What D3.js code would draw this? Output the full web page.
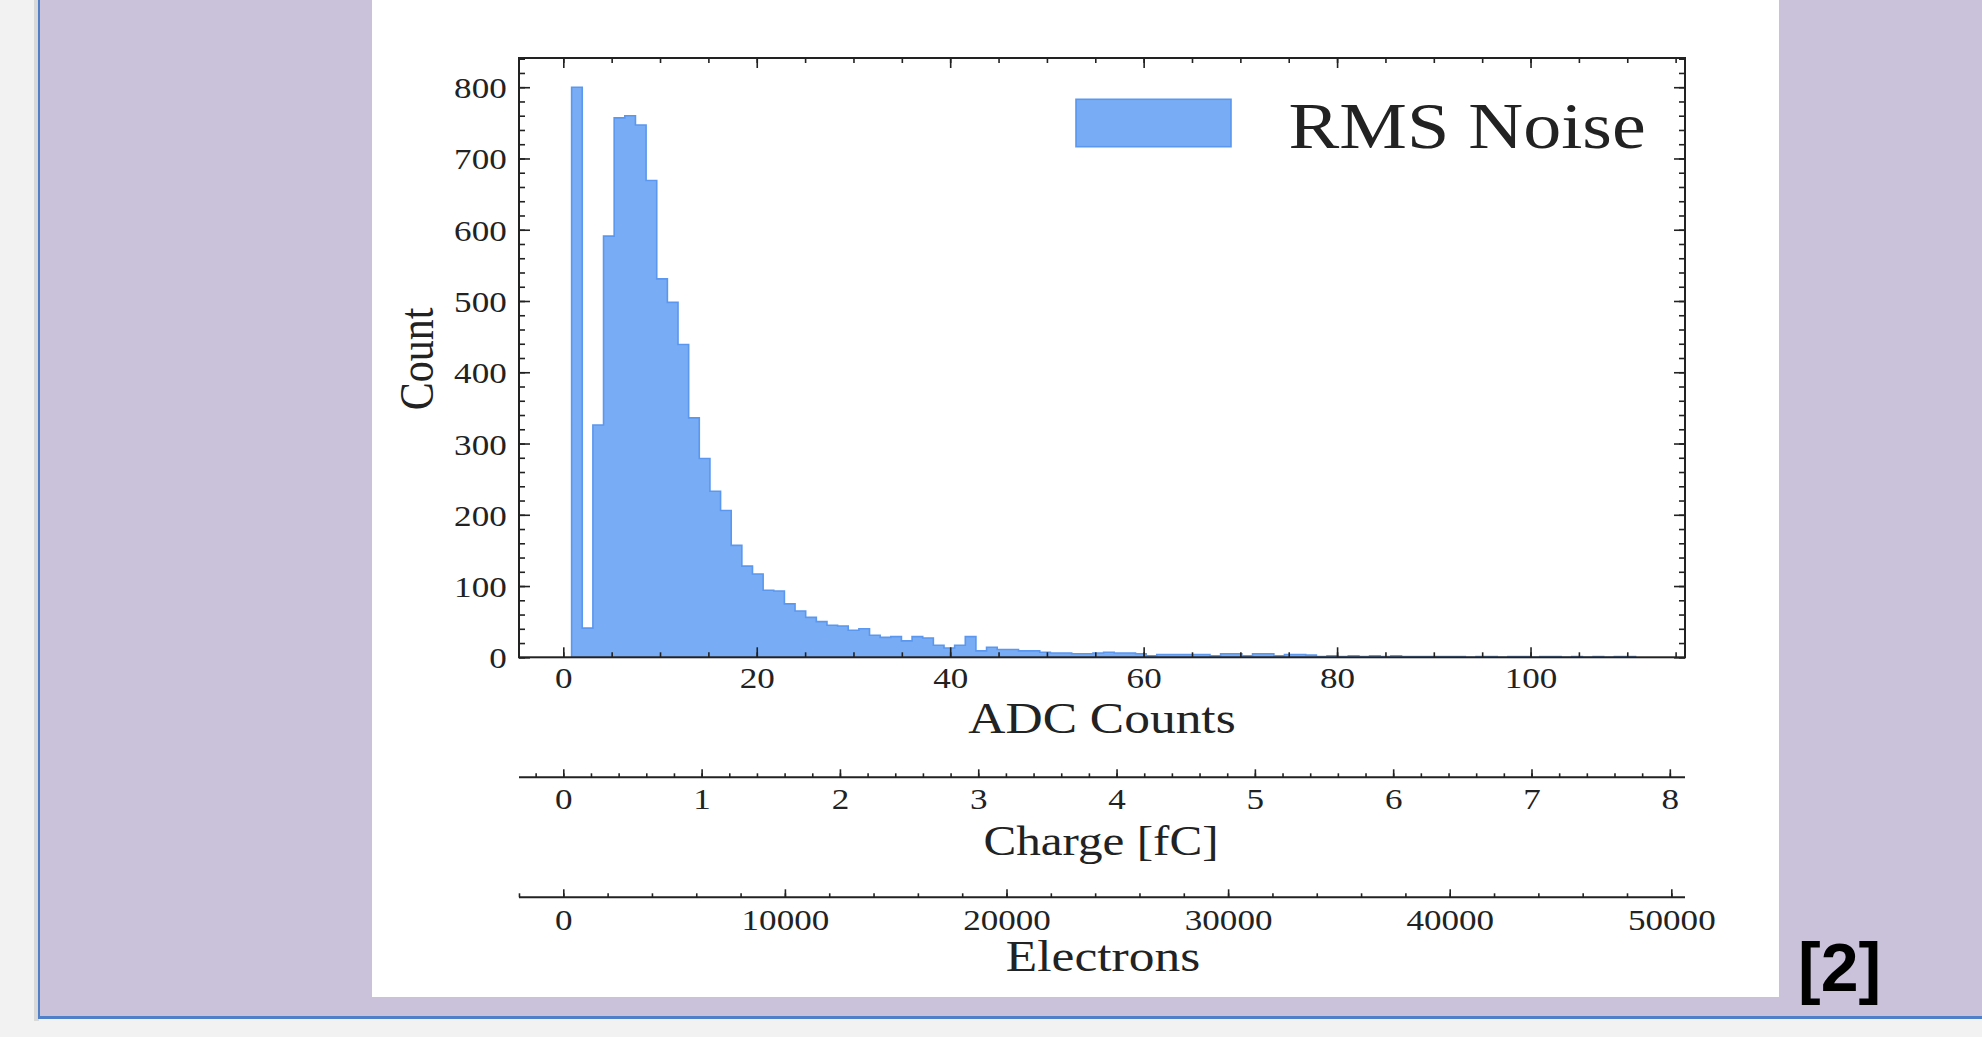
<!DOCTYPE html>
<html>
<head>
<meta charset="utf-8">
<script src="https://cdn.jsdelivr.net/npm/d3@7"></script>
<style>
  body { margin: 0; background: #f2f2f2; overflow: hidden; }
  svg { display: block; }
</style>
</head>
<body>
<svg id="noisePlot"></svg>
<script>
// histogram of per-channel RMS noise, 100 bins starting at 0.86 ADC, 1.1 ADC wide
const binStart = 0.86;
const binWidth = 1.1;
const counts = [
  800, 41, 326, 591, 757, 760, 747, 669, 531, 498,
  439, 336, 279, 233, 206, 157, 128, 117, 94, 93,
  75, 65, 56, 50, 45, 44, 38, 40, 31, 28,
  29, 23, 29, 27, 17, 13, 17, 29, 9, 14,
  11, 11, 9, 9, 7, 6, 6, 5, 5, 6,
  7, 6, 6, 5, 2, 4, 4, 4, 4, 4,
  2, 5, 5, 2, 5, 5, 2, 4, 4, 3,
  1, 2, 1, 2, 1, 2, 1, 2, 1, 1,
  1, 1, 1, 1, 0, 1, 1, 0, 1, 1,
  0, 1, 1, 0, 1, 0, 1, 0, 1, 1,
];

const adcTicks = [0, 20, 40, 60, 80, 100];
const countTicks = [0, 100, 200, 300, 400, 500, 600, 700, 800];
const chargeTicks = [0, 1, 2, 3, 4, 5, 6, 7, 8];
const electronTicks = [0, 10000, 20000, 30000, 40000, 50000];

const adcPerFc = 14.3;
const electronsPerFc = 6241.5;

const size = { width: 1982, height: 1037 };
const serif = "'Liberation Serif', 'Times New Roman', serif";
const sx = 1.17; // the source figure is stretched sideways
const ink = "#222";
const color = { fill: "#78acf4", edge: "#5b97ee" };

const svg = d3
  .select("#noisePlot")
  .attr("width", size.width)
  .attr("height", size.height);

// slide backdrop
svg.append("rect").attr("width", size.width).attr("height", size.height).attr("fill", "#f2f2f2");
svg.append("rect").attr("x", 34).attr("y", 0).attr("width", 5).attr("height", 1021).attr("fill", "#d9d9d9");
svg.append("rect").attr("x", 38).attr("y", 0).attr("width", size.width - 38).attr("height", 1019).attr("fill", "#4f80c8");
svg.append("rect").attr("x", 40).attr("y", 0).attr("width", size.width - 40).attr("height", 1016).attr("fill", "#cac1da");
svg.append("rect").attr("x", 372).attr("y", 0).attr("width", 1407).attr("height", 997).attr("fill", "#fff");

svg
  .append("text")
  .text("[2]")
  .attr("x", 1798)
  .attr("y", 991)
  .attr("font-family", "'Liberation Sans', Arial, sans-serif")
  .attr("font-weight", "bold")
  .attr("font-size", 68)
  .attr("fill", "#000");

const frame = { left: 519, right: 1685, top: 58, bottom: 657.3 };

const x = d3.scaleLinear().domain([-4.58, 115.97]).range([frame.left, frame.right]);
const y = d3.scaleLinear().domain([0, 841]).range([frame.bottom, frame.top]);
const xCharge = d3
  .scaleLinear()
  .domain(x.domain().map((v) => v / adcPerFc))
  .range(x.range());
const xElec = d3
  .scaleLinear()
  .domain(xCharge.domain().map((v) => v * electronsPerFc))
  .range(x.range());

// histogram
const pts = counts.map((c, i) => [binStart + i * binWidth, c]);
pts.push([binStart + counts.length * binWidth, counts[counts.length - 1]]);

const area = d3
  .area()
  .curve(d3.curveStepAfter)
  .x((d) => x(d[0]))
  .y0(y(0))
  .y1((d) => y(d[1]));

svg.append("path").datum(pts).attr("d", area).attr("fill", color.fill);

const outline = [[pts[0][0], 0], ...pts, [pts[pts.length - 1][0], 0]];
svg
  .append("path")
  .datum(outline)
  .attr(
    "d",
    d3
      .line()
      .curve(d3.curveStepAfter)
      .x((d) => x(d[0]))
      .y((d) => y(d[1]))
  )
  .attr("fill", "none")
  .attr("stroke", color.edge)
  .attr("stroke-width", 1.6);

// axes helpers
const styleAxis = (g, fontSize) => {
  g.attr("font-family", serif).attr("font-size", fontSize);
  g.select(".domain").remove();
  g.selectAll(".tick line").attr("stroke", ink).attr("stroke-width", 1.6);
  g.selectAll(".tick text").attr("fill", ink);
  return g;
};

const placeLabels = (g, dx, dy) => {
  g.selectAll(".tick text")
    .attr("x", null)
    .attr("y", null)
    .attr("dy", null)
    .attr("transform", `translate(${dx},${dy}) scale(${sx},1)`);
};

const addAxis = (axis, transform, fontSize = 30) =>
  styleAxis(svg.append("g").attr("transform", transform).call(axis), fontSize);

const minorAdc = d3.range(-0, 116, 5);
const minorCount = d3.range(0, 841, 20);

// bottom ADC axis
const adcAxis = addAxis(
  d3.axisBottom(x).tickValues(adcTicks).tickSize(-10).tickSizeOuter(0).tickFormat(d3.format("d")),
  `translate(0,${frame.bottom})`
);
placeLabels(adcAxis, 0, 30.7);
addAxis(d3.axisBottom(x).tickValues(minorAdc).tickSize(-5).tickSizeOuter(0).tickFormat(""), `translate(0,${frame.bottom})`);

// top mirror
addAxis(d3.axisTop(x).tickValues(adcTicks).tickSize(-10).tickSizeOuter(0).tickFormat(""), `translate(0,${frame.top})`);
addAxis(d3.axisTop(x).tickValues(minorAdc).tickSize(-5).tickSizeOuter(0).tickFormat(""), `translate(0,${frame.top})`);

// left count axis
const countAxis = addAxis(
  d3.axisLeft(y).tickValues(countTicks).tickSize(-11).tickSizeOuter(0).tickFormat(d3.format("d")),
  `translate(${frame.left},0)`
);
countAxis.selectAll(".tick text").attr("text-anchor", "end");
placeLabels(countAxis, -12.3, 10.5);
addAxis(d3.axisLeft(y).tickValues(minorCount).tickSize(-6).tickSizeOuter(0).tickFormat(""), `translate(${frame.left},0)`);

// right mirror
addAxis(d3.axisRight(y).tickValues(countTicks).tickSize(-11).tickSizeOuter(0).tickFormat(""), `translate(${frame.right},0)`);
addAxis(d3.axisRight(y).tickValues(minorCount).tickSize(-6).tickSizeOuter(0).tickFormat(""), `translate(${frame.right},0)`);

svg
  .append("rect")
  .attr("x", frame.left)
  .attr("y", frame.top)
  .attr("width", frame.right - frame.left)
  .attr("height", frame.bottom - frame.top)
  .attr("fill", "none")
  .attr("stroke", ink)
  .attr("stroke-width", 2);

// secondary scales below the plot
const secondary = (scale, ticks, minor, yPos, labelDy) => {
  svg
    .append("line")
    .attr("x1", frame.left)
    .attr("x2", frame.right)
    .attr("y1", yPos)
    .attr("y2", yPos)
    .attr("stroke", ink)
    .attr("stroke-width", 2);
  const g = addAxis(
    d3.axisBottom(scale).tickValues(ticks).tickSize(-8).tickSizeOuter(0).tickFormat(d3.format("d")),
    `translate(0,${yPos})`
  );
  placeLabels(g, 0, labelDy);
  addAxis(
    d3.axisBottom(scale).tickValues(minor).tickSize(-4).tickSizeOuter(0).tickFormat(""),
    `translate(0,${yPos})`
  );
};

secondary(
  xCharge,
  chargeTicks,
  d3.range(-1, 41).map((i) => i * 0.2),
  777.3,
  32
);
secondary(
  xElec,
  electronTicks,
  d3.range(-1, 26).map((i) => i * 2000),
  897.3,
  32.7
);

// titles
const title = (text, cx, cy, fs, rotate = false) =>
  svg
    .append("text")
    .text(text)
    .attr("font-family", serif)
    .attr("font-size", fs)
    .attr("fill", ink)
    .attr("text-anchor", "middle")
    .attr("transform", `translate(${cx},${cy}) scale(${sx},1)${rotate ? " rotate(-90)" : ""}`);

title("ADC Counts", 1102, 733, 44);
title("Charge [fC]", 1101, 855, 42);
title("Electrons", 1103, 971, 44);
title("Count", 433, 359, 42, true);

// legend
svg
  .append("rect")
  .attr("x", 1076)
  .attr("y", 99.3)
  .attr("width", 155)
  .attr("height", 47.4)
  .attr("fill", color.fill)
  .attr("stroke", color.edge)
  .attr("stroke-width", 1.6);

svg
  .append("text")
  .text("RMS Noise")
  .attr("font-family", serif)
  .attr("font-size", 65)
  .attr("fill", ink)
  .attr("transform", `translate(1288.6,148) scale(${sx},1)`);
</script>
</body>
</html>
